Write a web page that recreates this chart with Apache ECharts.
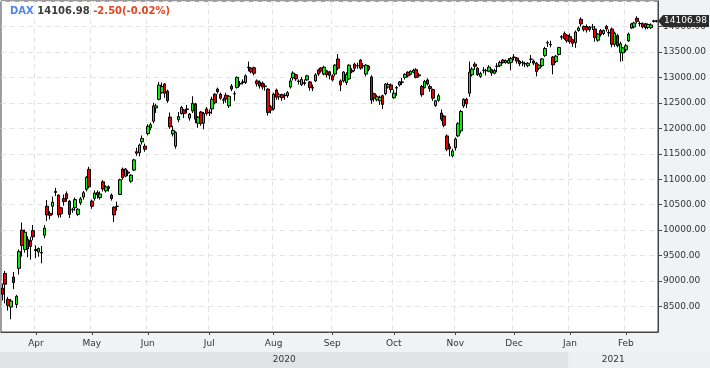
<!DOCTYPE html>
<html><head><meta charset="utf-8">
<script src="https://cdn.jsdelivr.net/npm/echarts/dist/echarts.min.js"></script>
<style>html,body{margin:0;padding:0;background:#f1f2f4;overflow:hidden}#c{width:710px;height:368px}</style>
</head><body><div id="c"></div>
<script>
// ---- DATA ----
const symbol = 'DAX';
const lastPrice = 14106.98;
const change = -2.50;
const changePct = -0.02;
const monthNames = ['Jan','Feb','Mar','Apr','May','Jun','Jul','Aug','Sep','Oct','Nov','Dec'];

const daysMar20 = [16,17,18,19,20,23,24,25,26,27,30,31];
const daysApr20 = [1,2,3,6,7,8,9,14,15,16,17,20,21,22,23,24,27,28,29,30];
const daysMay20 = [4,5,6,7,8,11,12,13,14,15,18,19,20,21,22,25,26,27,28,29];
const daysJun20 = [1,2,3,4,5,8,9,10,11,12,15,16,17,18,19,22,23,24,25,26,29,30];
const daysJul20 = [1,2,3,6,7,8,9,10,13,14,15,16,17,20,21,22,23,24,27,28,29,30,31];
const daysAug20 = [3,4,5,6,7,10,11,12,13,14,17,18,19,20,21,24,25,26,27,28,31];
const daysSep20 = [1,2,3,4,7,8,9,10,11,14,15,16,17,18,21,22,23,24,25,28,29,30];
const daysOct20 = [1,2,5,6,7,8,9,12,13,14,15,16,19,20,21,22,23,26,27,28,29,30];
const daysNov20 = [2,3,4,5,6,9,10,11,12,13,16,17,18,19,20,23,24,25,26,27,30];
const daysDec20 = [1,2,3,4,7,8,9,10,11,14,15,16,17,18,21,22,23,28,29,30];
const daysJan21 = [4,5,6,7,8,11,12,13,14,15,18,19,20,21,22,25,26,27,28,29];
const daysFeb21 = [1,2,3,4,5,8,9,10,11,12,15,16];

// rows: [open, close, low, high]
const ohlcMar20 = [
[8860,8742,8620,8950],[9150,8939,8560,9200],[8640,8520,8420,8690],[8490,8610,8250,8650],
[9080,8970,8840,9180],[8540,8700,8470,8730],[9250,9580,9130,9620],[10000,9700,9480,10150],
[9620,9960,9560,10010],[9820,9630,9470,9880],[9800,9680,9420,9870],[9990,9870,9800,10100]];
const ohlcApr20 = [
[9620,9600,9450,9700],[9570,9640,9480,9660],[9560,9550,9350,9690],[9900,10040,9840,10100],
[10470,10300,10180,10590],[10330,10290,10210,10370],[10470,10550,10300,10660],[10760,10740,10670,10830],
[10690,10300,10245,10700],[10440,10320,10250,10460],[10620,10560,10480,10700],[10715,10620,10560,10760],
[10570,10310,10240,10590],[10410,10400,10340,10440],[10440,10600,10380,10640],[10310,10410,10280,10430],
[10535,10615,10490,10650],[10650,10735,10600,10770],[10800,11040,10760,11060],[11195,10850,10820,11245]];
const ohlcMay20 = [
[10570,10470,10420,10600],[10625,10730,10580,10780],[10740,10690,10620,10780],[10640,10710,10600,10760],
[10950,10810,10760,10980],[10770,10850,10740,10880],[10850,10820,10760,10880],[10690,10620,10580,10720],
[10450,10300,10160,10470],[10470,10465,10380,10560],[10700,10990,10690,11010],[11200,11030,10990,11230],
[11060,11200,11040,11220],[11140,11120,11060,11180],[10960,11080,10930,11100],[11180,11380,11160,11400],
[11540,11510,11460,11620],[11520,11670,11450,11700],[11735,11800,11680,11860],[11650,11590,11540,11700]];
const ohlcJun20 = [
[11895,12040,11860,12080],[12010,12070,11960,12110],[12140,12440,12100,12500],[12400,12440,12300,12480],
[12570,12850,12550,12910],[12700,12820,12680,12900],[12870,12690,12600,12890],[12730,12540,12500,12760],
[12220,12030,11990,12310],[11890,11960,11840,12050],[11650,11920,11600,11940],[12170,12230,12120,12320],
[12290,12410,12270,12440],[12360,12290,12200,12380],[12380,12370,12290,12460],[12200,12280,12150,12300],
[12340,12490,12300,12630],[12480,12180,12100,12500],[12100,12220,12010,12240],[12320,12100,12050,12340],
[12100,12290,11980,12320],[12380,12290,12250,12420]];
const ohlcJul20 = [
[12320,12300,12240,12370],[12380,12570,12280,12620],[12670,12500,12470,12690],[12770,12720,12680,12800],
[12670,12590,12560,12700],[12560,12550,12480,12600],[12650,12575,12500,12700],[12440,12630,12400,12650],
[12830,12770,12730,12870],[12680,12675,12540,12730],[12800,13000,12780,13020],[12880,12870,12820,12930],
[12900,12910,12860,12960],[12900,13030,12870,13060],[13200,13190,13120,13310],[13180,13110,13080,13200],
[13190,13080,13040,13210],[12930,12875,12820,12960],[12910,12830,12780,12940],[12890,12810,12760,12920],
[12830,12820,12740,12880],[12770,12310,12250,12790],[12420,12360,12290,12460]];
const ohlcAug20 = [
[12380,12670,12350,12700],[12750,12610,12560,12780],[12620,12660,12560,12700],[12660,12600,12540,12680],
[12640,12650,12560,12690],[12640,12700,12600,12730],[12810,12930,12780,12990],[12990,13085,12940,13120],
[13050,12970,12930,13070],[12930,12920,12860,12960],[12860,12960,12830,13010],[12880,12900,12840,12960],
[12950,13030,12930,13050],[12910,12800,12740,12930],[12800,12790,12730,12860],[12930,13050,12910,13080],
[13145,13065,13030,13170],[13185,13125,13090,13200],[13065,13200,13040,13230],[13130,13050,13000,13150],
[13110,13040,12960,13130]];
const ohlcSep20 = [
[13030,12950,12920,13060],[13065,13240,13020,13260],[13360,13180,13140,13460],[12930,12850,12730,12960],
[12930,13105,12900,13120],[12900,13060,12850,13100],[12970,13240,12950,13260],[13140,13110,13080,13180],
[13260,13180,13120,13290],[13230,13225,13170,13290],[13340,13180,13150,13360],[13230,13225,13170,13280],
[13065,13240,13020,13260],[13220,13160,13120,13240],[13010,12555,12480,13040],[12680,12590,12520,12700],
[12560,12620,12530,12660],[12540,12610,12460,12640],[12640,12470,12380,12660],[12680,12870,12650,12890],
[12810,12860,12780,12900],[12850,12760,12700,12880]];
const ohlcOct20 = [
[12600,12690,12580,12760],[12800,12790,12640,12830],[12850,12910,12820,12930],[12910,12905,12850,12990],
[13000,13060,12960,13080],[13100,13030,13000,13120],[13060,13120,13040,13140],[13100,13140,13080,13170],
[13150,13000,12980,13180],[13030,13050,13000,13090],[12820,12660,12620,12850],[12800,12920,12780,12950],
[12950,12870,12840,12980],[12820,12780,12720,12860],[12760,12590,12540,12780],[12450,12540,12420,12560],
[12550,12640,12520,12680],[12300,12180,12140,12370],[12240,12060,12020,12260],[11850,11590,11550,11880],
[11640,11600,11450,11700],[11460,11556,11430,11600]];
const ohlcNov20 = [
[11620,11790,11560,11820],[11850,12090,11830,12120],[11950,12330,11900,12360],[12440,12570,12400,12590],
[12570,12480,12400,12600],[12690,13100,12620,13310],[13050,13163,13020,13200],[13260,13217,13150,13300],
[13180,13053,13030,13200],[13020,13077,12990,13110],[13140,13139,13080,13200],[13130,13134,13040,13170],
[13120,13202,13100,13240],[13150,13086,13030,13170],[13080,13137,13060,13170],[13220,13215,13100,13280],
[13230,13292,13200,13330],[13340,13290,13270,13360],[13290,13330,13270,13350],[13280,13336,13260,13380],
[13290,13370,13140,13400]];
const ohlcDec20 = [
[13400,13390,13330,13460],[13380,13320,13270,13400],[13320,13270,13220,13340],[13290,13295,13220,13330],
[13270,13265,13200,13310],[13230,13278,13200,13300],[13360,13355,13280,13440],[13320,13280,13240,13350],
[13280,13114,13020,13300],[13180,13240,13140,13260],[13230,13363,13200,13380],[13430,13566,13400,13600],
[13680,13675,13600,13720],[13650,13640,13590,13720],[13400,13246,13060,13420],[13310,13418,13280,13440],
[13450,13587,13430,13600],[13800,13790,13740,13830],[13860,13761,13740,13900],[13830,13719,13680,13850]];
const ohlcJan21 = [
[13800,13700,13660,13860],[13740,13670,13600,13760],[13680,13890,13580,13920],[13920,13970,13900,14000],
[14140,14050,14000,14180],[14000,13937,13900,14020],[14000,13930,13880,14040],[13990,13940,13900,14010],
[13990,13989,13930,14050],[13950,13780,13700,14010],[13730,13848,13700,13870],[13920,13840,13800,13950],
[13860,13921,13830,13940],[14000,13950,13900,14030],[13880,13874,13800,13940],[13950,13650,13590,13980],
[13650,13871,13600,13900],[13820,13620,13590,13850],[13490,13660,13310,13700],[13480,13580,13320,13600]];
const ohlcFeb21 = [
[13540,13622,13500,13660],[13715,13850,13700,13880],[13970,14050,13950,14070],[13990,14070,13960,14090],
[14160,14100,14060,14200],[14060,14055,14000,14100],[14055,13990,13960,14080],[14055,13976,13940,14070],
[13980,14040,13950,14060],[13976,14030,13950,14060],[14100,14109.48,14080,14130],[14105,14106.98,14080,14125]];

const months = [
  ['2020-03', daysMar20, ohlcMar20], ['2020-04', daysApr20, ohlcApr20], ['2020-05', daysMay20, ohlcMay20],
  ['2020-06', daysJun20, ohlcJun20], ['2020-07', daysJul20, ohlcJul20], ['2020-08', daysAug20, ohlcAug20],
  ['2020-09', daysSep20, ohlcSep20], ['2020-10', daysOct20, ohlcOct20], ['2020-11', daysNov20, ohlcNov20],
  ['2020-12', daysDec20, ohlcDec20], ['2021-01', daysJan21, ohlcJan21], ['2021-02', daysFeb21, ohlcFeb21]
];

// ---- BUILD ----
const dates = [], ohlc = [];
months.forEach(([ym, days, rows]) => {
  if (days.length !== rows.length) console.error('length mismatch', ym);
  days.forEach((d, i) => { dates.push(ym + '-' + String(d).padStart(2, '0')); ohlc.push(rows[i]); });
});
const isMonthStart = (idx) => idx > 0 && dates[idx].slice(0, 7) !== dates[idx - 1].slice(0, 7);

const FONT = 'DejaVu Sans';
const chart = echarts.init(document.getElementById('c'), null, { renderer: 'canvas' });
const gridRight = 52, gridLeft = 1, gridTop = 1, gridBottom = 36;

chart.setOption({
  backgroundColor: '#f1f2f4',
  animation: false,
  title: {
    left: 10, top: 6, padding: 0,
    text: '{a|' + symbol + '} {b|' + lastPrice.toFixed(2) + '} {c|' + change.toFixed(2) + '(' + changePct.toFixed(2) + '%)}',
    textStyle: {
      fontSize: 10, fontFamily: FONT,
      rich: {
        a: { color: '#4f84e8', fontFamily: FONT, fontSize: 10, fontWeight: 'bold' },
        b: { color: '#3c3c3c', fontFamily: FONT, fontSize: 10, fontWeight: 'bold' },
        c: { color: '#e2451f', fontFamily: FONT, fontSize: 10, fontWeight: 'bold' }
      }
    }
  },
  grid: { left: gridLeft, right: gridRight, top: gridTop, bottom: gridBottom, show: true,
          backgroundColor: '#ffffff', borderColor: '#444', borderWidth: 1 },
  xAxis: {
    type: 'category', data: dates, boundaryGap: true,
    axisLine: { show: true, lineStyle: { color: '#444' } },
    axisTick: { show: true, alignWithLabel: true, length: 3, interval: isMonthStart, lineStyle: { color: '#444' } },
    axisLabel: { interval: isMonthStart, color: '#333', fontFamily: FONT, fontSize: 9, margin: 7,
                 formatter: (v) => monthNames[parseInt(v.slice(5, 7), 10) - 1] },
    splitLine: { show: true, interval: isMonthStart, lineStyle: { color: '#e4e4e4', type: [5, 4] } }
  },
  yAxis: {
    type: 'value', position: 'right', min: 8000, max: 14500, interval: 500,
    axisLine: { show: true, lineStyle: { color: '#444' } },
    axisTick: { show: true, length: 4, lineStyle: { color: '#444' } },
    axisLabel: { color: '#333', fontFamily: FONT, fontSize: 9, margin: 5, showMinLabel: false, showMaxLabel: false,
                 formatter: (v) => v.toFixed(2) },
    splitLine: { show: true, lineStyle: { color: '#e4e4e4', type: [5, 4] } }
  },
  series: [{
    type: 'candlestick', data: ohlc, barWidth: 3,
    itemStyle: { color: '#10ea10', color0: '#e80000', borderColor: '#000', borderColor0: '#000', borderWidth: 1 }
  }]
});

// overlays positioned through the library's scales
const firstIdx2021 = dates.findIndex(d => d.startsWith('2021'));
const xA = chart.convertToPixel({ xAxisIndex: 0 }, firstIdx2021);
const xB = chart.convertToPixel({ xAxisIndex: 0 }, firstIdx2021 - 1);
const boundary = (xA + xB) / 2;
const plotRight = 710 - gridRight;
const yPrice = chart.convertToPixel({ yAxisIndex: 0 }, lastPrice);

chart.setOption({
  graphic: [
    { type: 'rect', silent: true, shape: { x: 0, y: 352, width: boundary, height: 16 }, style: { fill: '#e2e3e5' } },
    { type: 'rect', silent: true, shape: { x: boundary, y: 352, width: 710 - boundary, height: 16 }, style: { fill: '#eeeff1' } },
    { type: 'text', silent: true, x: boundary / 2, y: 360,
      style: { text: '2020', fill: '#333', font: '9px "DejaVu Sans"', align: 'center', verticalAlign: 'middle' } },
    { type: 'text', silent: true, x: (boundary + plotRight) / 2, y: 360,
      style: { text: '2021', fill: '#333', font: '9px "DejaVu Sans"', align: 'center', verticalAlign: 'middle' } },
    { type: 'polygon', silent: true, z: 100,
      shape: { points: [[plotRight, yPrice], [plotRight + 5, yPrice - 6], [709, yPrice - 6], [709, yPrice + 6], [plotRight + 5, yPrice + 6]] },
      style: { fill: '#2b2b2b' } },
    { type: 'text', silent: true, z: 101, x: plotRight + 6, y: yPrice,
      style: { text: lastPrice.toFixed(2), fill: '#fff', font: '9px "DejaVu Sans"', align: 'left', verticalAlign: 'middle' } }
  ]
});
</script></body></html>
